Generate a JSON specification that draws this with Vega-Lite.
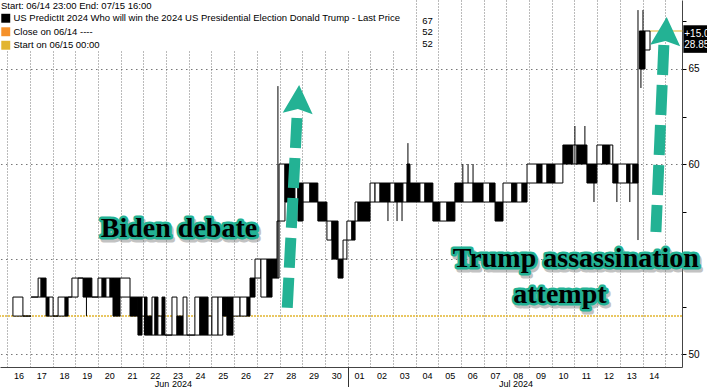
{
  "$schema": "https://vega.github.io/schema/vega-lite/v6.json",
  "width": 682,
  "height": 367,
  "autosize": {"type": "none"},
  "padding": {"left": 0, "top": 0, "right": 25, "bottom": 20},
  "background": "#ffffff",
  "config": {"view": {"stroke": null}, "font": "Liberation Sans"},
  "datasets": {
    "candles": [
      {"t0": 16.25, "t1": 16.69, "open": 52, "close": 53},
      {"t0": 16.69, "t1": 17.05, "open": 52, "close": 52},
      {"t0": 17.05, "t1": 17.36, "open": 53, "close": 53},
      {"t0": 17.36, "t1": 17.49, "open": 53, "close": 54},
      {"t0": 17.49, "t1": 17.71, "open": 54, "close": 53},
      {"t0": 17.71, "t1": 17.84, "open": 53, "close": 52},
      {"t0": 17.84, "t1": 18.02, "open": 52, "close": 53},
      {"t0": 18.02, "t1": 18.24, "open": 52, "close": 52},
      {"t0": 18.24, "t1": 18.55, "open": 52, "close": 53},
      {"t0": 18.55, "t1": 18.68, "open": 53, "close": 52},
      {"t0": 18.68, "t1": 18.85, "open": 53, "close": 53},
      {"t0": 18.85, "t1": 19.12, "open": 53, "close": 54},
      {"t0": 19.12, "t1": 19.34, "open": 54, "close": 54},
      {"t0": 19.34, "t1": 19.73, "open": 54, "close": 53},
      {"t0": 19.73, "t1": 20.0, "open": 53, "close": 53},
      {"t0": 20.0, "t1": 20.18, "open": 53, "close": 54},
      {"t0": 20.18, "t1": 20.35, "open": 54, "close": 53},
      {"t0": 20.35, "t1": 20.53, "open": 53, "close": 54},
      {"t0": 20.53, "t1": 20.66, "open": 54, "close": 53},
      {"t0": 20.66, "t1": 20.97, "open": 54, "close": 52},
      {"t0": 20.97, "t1": 21.41, "open": 53, "close": 54},
      {"t0": 21.41, "t1": 21.76, "open": 53, "close": 52},
      {"t0": 21.76, "t1": 21.94, "open": 53, "close": 51},
      {"t0": 21.94, "t1": 22.05, "open": 52, "close": 53},
      {"t0": 22.05, "t1": 22.16, "open": 53, "close": 51},
      {"t0": 22.16, "t1": 22.38, "open": 52, "close": 51},
      {"t0": 22.38, "t1": 22.51, "open": 51, "close": 53},
      {"t0": 22.51, "t1": 22.64, "open": 53, "close": 51},
      {"t0": 22.64, "t1": 22.82, "open": 51, "close": 52},
      {"t0": 22.82, "t1": 22.95, "open": 53, "close": 51},
      {"t0": 22.95, "t1": 23.26, "open": 51, "close": 51},
      {"t0": 23.26, "t1": 23.48, "open": 51, "close": 53},
      {"t0": 23.48, "t1": 23.75, "open": 52, "close": 51},
      {"t0": 23.75, "t1": 23.92, "open": 51, "close": 53},
      {"t0": 23.92, "t1": 24.27, "open": 51, "close": 51},
      {"t0": 24.27, "t1": 24.49, "open": 51, "close": 53},
      {"t0": 24.49, "t1": 24.85, "open": 53, "close": 51},
      {"t0": 24.85, "t1": 25.02, "open": 51, "close": 52},
      {"t0": 25.02, "t1": 25.29, "open": 51, "close": 53},
      {"t0": 25.29, "t1": 25.5, "open": 51, "close": 53},
      {"t0": 25.5, "t1": 25.68, "open": 53, "close": 52},
      {"t0": 25.68, "t1": 25.95, "open": 53, "close": 51},
      {"t0": 25.95, "t1": 26.26, "open": 52, "close": 53},
      {"t0": 26.26, "t1": 26.57, "open": 52, "close": 53},
      {"t0": 26.57, "t1": 26.7, "open": 53, "close": 52},
      {"t0": 26.7, "t1": 26.92, "open": 54, "close": 53},
      {"t0": 26.92, "t1": 27.18, "open": 54, "close": 55},
      {"t0": 27.18, "t1": 27.45, "open": 53, "close": 55},
      {"t0": 27.45, "t1": 27.67, "open": 55, "close": 53},
      {"t0": 27.67, "t1": 27.89, "open": 55, "close": 54},
      {"t0": 27.89, "t1": 27.98, "open": 54, "close": 57},
      {"t0": 27.98, "t1": 28.24, "open": 57, "close": 60},
      {"t0": 28.24, "t1": 28.46, "open": 60, "close": 58},
      {"t0": 28.46, "t1": 28.68, "open": 59, "close": 58},
      {"t0": 28.68, "t1": 28.81, "open": 58, "close": 59},
      {"t0": 28.81, "t1": 29.03, "open": 59, "close": 57},
      {"t0": 29.03, "t1": 29.34, "open": 58, "close": 59},
      {"t0": 29.34, "t1": 29.69, "open": 59, "close": 58},
      {"t0": 29.69, "t1": 30.09, "open": 58, "close": 57},
      {"t0": 30.09, "t1": 30.31, "open": 56, "close": 57},
      {"t0": 30.31, "t1": 30.58, "open": 57, "close": 55},
      {"t0": 30.58, "t1": 30.8, "open": 55, "close": 54},
      {"t0": 30.8, "t1": 30.97, "open": 55, "close": 56},
      {"t0": 30.97, "t1": 31.19, "open": 56, "close": 57},
      {"t0": 31.19, "t1": 31.33, "open": 57, "close": 56},
      {"t0": 31.33, "t1": 31.46, "open": 57, "close": 58},
      {"t0": 31.46, "t1": 31.99, "open": 58, "close": 57},
      {"t0": 31.99, "t1": 32.21, "open": 58, "close": 59},
      {"t0": 32.21, "t1": 32.43, "open": 58, "close": 59},
      {"t0": 32.43, "t1": 32.87, "open": 59, "close": 58},
      {"t0": 32.87, "t1": 33.09, "open": 58, "close": 59},
      {"t0": 33.09, "t1": 33.44, "open": 59, "close": 58},
      {"t0": 33.44, "t1": 33.62, "open": 58, "close": 59},
      {"t0": 33.62, "t1": 33.75, "open": 60, "close": 58},
      {"t0": 33.75, "t1": 34.19, "open": 59, "close": 58},
      {"t0": 34.19, "t1": 34.41, "open": 58, "close": 59},
      {"t0": 34.41, "t1": 34.76, "open": 59, "close": 58},
      {"t0": 34.76, "t1": 35.07, "open": 58, "close": 57},
      {"t0": 35.07, "t1": 35.38, "open": 57, "close": 58},
      {"t0": 35.38, "t1": 35.73, "open": 58, "close": 57},
      {"t0": 35.73, "t1": 36.08, "open": 59, "close": 58},
      {"t0": 36.08, "t1": 36.53, "open": 58, "close": 59},
      {"t0": 36.53, "t1": 36.97, "open": 59, "close": 58},
      {"t0": 36.97, "t1": 37.27, "open": 58, "close": 59},
      {"t0": 37.27, "t1": 37.5, "open": 59, "close": 58},
      {"t0": 37.5, "t1": 37.85, "open": 58, "close": 57},
      {"t0": 37.85, "t1": 38.24, "open": 58, "close": 59},
      {"t0": 38.24, "t1": 38.46, "open": 59, "close": 58},
      {"t0": 38.46, "t1": 38.69, "open": 58, "close": 59},
      {"t0": 38.69, "t1": 38.91, "open": 59, "close": 58},
      {"t0": 38.91, "t1": 39.35, "open": 59, "close": 60},
      {"t0": 39.35, "t1": 39.57, "open": 60, "close": 59},
      {"t0": 39.57, "t1": 39.79, "open": 59, "close": 60},
      {"t0": 39.79, "t1": 40.14, "open": 60, "close": 59},
      {"t0": 40.14, "t1": 40.49, "open": 59, "close": 60},
      {"t0": 40.49, "t1": 40.93, "open": 61, "close": 60},
      {"t0": 40.93, "t1": 41.11, "open": 60, "close": 61},
      {"t0": 41.11, "t1": 41.55, "open": 61, "close": 60},
      {"t0": 41.55, "t1": 41.99, "open": 60, "close": 59},
      {"t0": 41.99, "t1": 42.25, "open": 60, "close": 61},
      {"t0": 42.25, "t1": 42.56, "open": 61, "close": 60},
      {"t0": 42.56, "t1": 42.69, "open": 60, "close": 61},
      {"t0": 42.69, "t1": 42.92, "open": 60, "close": 59},
      {"t0": 42.92, "t1": 43.31, "open": 59, "close": 60},
      {"t0": 43.31, "t1": 43.45, "open": 60, "close": 59},
      {"t0": 43.45, "t1": 43.58, "open": 59, "close": 60},
      {"t0": 43.58, "t1": 43.8, "open": 60, "close": 59},
      {"t0": 43.86, "t1": 44.11, "open": 67, "close": 65},
      {"t0": 44.11, "t1": 44.33, "open": 66, "close": 67}
    ],
    "wicks": [
      {"t": 19.49, "low": 52, "high": 53},
      {"t": 27.93, "low": 54, "high": 64.1},
      {"t": 29.03, "low": 57, "high": 59},
      {"t": 32.78, "low": 57, "high": 59},
      {"t": 33.18, "low": 57, "high": 58},
      {"t": 33.4, "low": 57, "high": 58},
      {"t": 33.66, "low": 58, "high": 61.1},
      {"t": 36.08, "low": 58, "high": 60},
      {"t": 36.31, "low": 59, "high": 60},
      {"t": 36.53, "low": 59, "high": 60},
      {"t": 41.02, "low": 60, "high": 62},
      {"t": 41.46, "low": 60, "high": 62},
      {"t": 41.86, "low": 58, "high": 60},
      {"t": 42.87, "low": 58, "high": 59},
      {"t": 43.44, "low": 58, "high": 59},
      {"t": 43.8, "low": 56, "high": 68.1},
      {"t": 43.93, "low": 64, "high": 65},
      {"t": 44.02, "low": 67, "high": 68.1}
    ],
    "lastline": [
      {"t0": 44.33, "t1": 45.76, "price": 67}
    ],
    "lastbox": [
      {"t0": 45.8, "t1": 47.0, "top": 67.3, "bottom": 65.85}
    ],
    "lastlabels": [
      {"text": "+15.00", "t": 45.84, "v": 66.85},
      {"text": "28.85%", "t": 45.84, "v": 66.25}
    ],
    "arrows": [
      {"arrow": "debate", "seq": 0, "t": 28.77, "v": 62.42},
      {"arrow": "debate", "seq": 1, "t": 28.33, "v": 52.16},
      {"arrow": "shooting", "seq": 0, "t": 44.94, "v": 66.26},
      {"arrow": "shooting", "seq": 1, "t": 44.59, "v": 56.42}
    ],
    "heads": [
      {"arrow": "debate", "t": 28.83, "v": 63.37},
      {"arrow": "shooting", "t": 45.03, "v": 66.95}
    ],
    "notes": [
      {"label": "Biden debate", "t": 23.57, "v": 56.16},
      {"label": "Trump assassination", "t": 41.06, "v": 54.58},
      {"label": "attempt", "t": 40.36, "v": 52.68}
    ],
    "legendvals": [
      {"val": "67", "t": 34.76, "v": 67.53},
      {"val": "52", "t": 34.76, "v": 66.95},
      {"val": "52", "t": 34.76, "v": 66.32}
    ],
    "start": [
      {"series": "Start on 06/15 00:00", "price": 52}
    ]
  },
  "layer": [
    {
      "data": {"name": "start"},
      "mark": {"type": "rule", "strokeWidth": 1.5, "strokeDash": [2, 1]},
      "encoding": {
        "y": {"field": "price", "type": "quantitative", "scale": {"domain": [49.32, 68.63], "nice": false, "zero": false}},
        "color": {
          "field": "series", "type": "nominal",
          "scale": {
            "domain": ["US PredictIt 2024 Who will win the 2024 US Presidential Election Donald Trump - Last Price", "Close on 06/14 ----", "Start on 06/15 00:00"],
            "range": ["#000000", "#f5912a", "#e2b52f"]
          },
          "legend": {
            "orient": "top-left", "offset": 0, "padding": 1, "fillColor": "#ffffff",
            "title": "Start: 06/14 23:00 End: 07/15 16:00",
            "titleFont": "Liberation Sans", "titleFontSize": 9.5, "titleFontWeight": "normal", "titleColor": "#000000", "titlePadding": 3,
            "labelFont": "Liberation Sans", "labelFontSize": 9.5, "labelColor": "#000000", "labelLimit": 1000, "labelOffset": 3,
            "symbolType": "square", "symbolSize": 80, "symbolStrokeWidth": 0, "symbolOpacity": 1, "rowPadding": 2.5,
            "encode": {"symbols": {"update": {"fill": {"scale": "color", "field": "value"}, "strokeWidth": {"value": 0}, "opacity": {"value": 1}}}}
          }
        }
      }
    },
    {
      "data": {"name": "lastline"},
      "mark": {"type": "rule", "color": "#e2b52f", "strokeWidth": 1.2},
      "encoding": {
        "x": {"field": "t0", "type": "quantitative", "scale": {"domain": [15.68, 45.74], "nice": false, "zero": false}, "axis": null},
        "x2": {"field": "t1"},
        "y": {"field": "price", "type": "quantitative", "scale": {"domain": [49.32, 68.63], "nice": false, "zero": false}}
      }
    },
    {
      "data": {"name": "candles"},
      "mark": {"type": "rect", "stroke": "#000000", "strokeWidth": 1},
      "encoding": {
        "x": {"field": "t0", "type": "quantitative", "scale": {"domain": [15.68, 45.74], "nice": false, "zero": false},
          "axis": {
            "orient": "bottom",
            "values": [16.5, 17.5, 18.5, 19.5, 20.5, 21.5, 22.5, 23.5, 24.5, 25.5, 26.5, 27.5, 28.5, 29.5, 30.5, 31.5, 32.5, 33.5, 34.5, 35.5, 36.5, 37.5, 38.5, 39.5, 40.5, 41.5, 42.5, 43.5, 44.5],
            "labelExpr": "datum.value < 31 ? format(floor(datum.value), 'd') : format(floor(datum.value) - 30, '02d')",
            "grid": false, "ticks": false, "domain": true, "domainColor": "#444444",
            "labelFont": "Liberation Sans", "labelFontSize": 9, "labelColor": "#000000", "labelPadding": 4,
            "labelOverlap": false, "labelFlush": false, "title": null
          }
        },
        "x2": {"field": "t1"},
        "y": {"field": "open", "type": "quantitative", "scale": {"domain": [49.32, 68.63], "nice": false, "zero": false},
          "axis": {
            "orient": "right", "values": [50, 52.5, 55, 57.5, 60, 62.5, 65, 67.5],
            "labelExpr": "datum.value == 50 || datum.value == 60 || datum.value == 65 ? format(datum.value, 'd') : ''",
            "grid": true, "gridColor": "#777777", "gridDash": [1.5, 3.5],
            "gridOpacity": {"condition": {"test": "datum.value % 5 == 0", "value": 1}, "value": 0},
            "tickSize": 4, "tickColor": "#000000", "domainColor": "#444444",
            "labelFont": "Liberation Sans", "labelFontSize": 10, "labelColor": "#000000", "labelPadding": 2, "title": null
          }
        },
        "y2": {"field": "close"},
        "fill": {
          "condition": {"test": "datum.close < datum.open", "value": "#000000"},
          "value": "#ffffff"
        }
      }
    },
    {
      "data": {"name": "wicks"},
      "mark": {"type": "rule", "color": "#000000", "strokeWidth": 1},
      "encoding": {
        "x": {"field": "t", "type": "quantitative", "scale": {"domain": [15.68, 45.74], "nice": false, "zero": false},
          "axis": {
            "orient": "bottom",
            "values": [16, 17, 18, 19, 20, 21, 22, 23, 24, 25, 26, 27, 28, 29, 30, 31, 32, 33, 34, 35, 36, 37, 38, 39, 40, 41, 42, 43, 44, 45, 23.3, 38.4],
            "grid": true, "gridColor": "#777777", "gridDash": [1, 2],
            "gridOpacity": {"condition": {"test": "datum.value == floor(datum.value)", "value": 1}, "value": 0},
            "ticks": true, "tickSize": 20, "tickColor": "#333333",
            "tickOpacity": {"condition": {"test": "datum.value == 31", "value": 1}, "value": 0},
            "labelExpr": "datum.value == 23.3 ? 'Jun 2024' : (datum.value == 38.4 ? 'Jul 2024' : '')",
            "labelFont": "Liberation Sans", "labelFontSize": 9, "labelColor": "#000000", "labelPadding": -8,
            "labelOverlap": false, "labelFlush": false, "domain": false, "title": null
          }
        },
        "y": {"field": "low", "type": "quantitative", "scale": {"domain": [49.32, 68.63], "nice": false, "zero": false}},
        "y2": {"field": "high"}
      }
    },
    {
      "data": {"name": "lastbox"},
      "mark": {"type": "rect", "color": "#000000"},
      "encoding": {
        "x": {"field": "t0", "type": "quantitative", "scale": {"domain": [15.68, 45.74], "nice": false, "zero": false}, "axis": null},
        "x2": {"field": "t1"},
        "y": {"field": "top", "type": "quantitative", "scale": {"domain": [49.32, 68.63], "nice": false, "zero": false}},
        "y2": {"field": "bottom"}
      }
    },
    {
      "data": {"name": "lastlabels"},
      "mark": {"type": "text", "font": "Liberation Sans", "fontSize": 10, "align": "left", "baseline": "middle", "fill": "#ffffff"},
      "encoding": {
        "x": {"field": "t", "type": "quantitative", "scale": {"domain": [15.68, 45.74], "nice": false, "zero": false}, "axis": null},
        "y": {"field": "v", "type": "quantitative", "scale": {"domain": [49.32, 68.63], "nice": false, "zero": false}},
        "text": {"field": "text"}
      }
    },
    {
      "data": {"name": "arrows"},
      "mark": {"type": "line", "color": "#23b294", "strokeWidth": 11, "strokeDash": [30, 10], "strokeCap": "butt"},
      "encoding": {
        "x": {"field": "t", "type": "quantitative", "scale": {"domain": [15.68, 45.74], "nice": false, "zero": false}, "axis": null},
        "y": {"field": "v", "type": "quantitative", "scale": {"domain": [49.32, 68.63], "nice": false, "zero": false}},
        "detail": {"field": "arrow"},
        "order": {"field": "seq"}
      }
    },
    {
      "data": {"name": "heads"},
      "mark": {"type": "point", "shape": "M0,-1L1,0.9L0,0.6L-1,0.9Z", "size": 900, "filled": true, "color": "#23b294", "opacity": 1, "angle": 3},
      "encoding": {
        "x": {"field": "t", "type": "quantitative", "scale": {"domain": [15.68, 45.74], "nice": false, "zero": false}, "axis": null},
        "y": {"field": "v", "type": "quantitative", "scale": {"domain": [49.32, 68.63], "nice": false, "zero": false}}
      }
    },
    {
      "data": {"name": "notes"},
      "mark": {"type": "text", "font": "Liberation Serif", "fontWeight": "bold", "fontSize": 28, "align": "center", "baseline": "alphabetic", "fill": "#7a7a7a", "stroke": "#7a7a7a", "strokeWidth": 5, "strokeJoin": "round", "opacity": 0.45, "dx": 2, "dy": 3},
      "encoding": {
        "x": {"field": "t", "type": "quantitative", "scale": {"domain": [15.68, 45.74], "nice": false, "zero": false}, "axis": null},
        "y": {"field": "v", "type": "quantitative", "scale": {"domain": [49.32, 68.63], "nice": false, "zero": false}},
        "text": {"field": "label"}
      }
    },
    {
      "data": {"name": "notes"},
      "mark": {"type": "text", "font": "Liberation Serif", "fontWeight": "bold", "fontSize": 28, "align": "center", "baseline": "alphabetic", "fill": "#23b294", "stroke": "#23b294", "strokeWidth": 5, "strokeJoin": "round"},
      "encoding": {
        "x": {"field": "t", "type": "quantitative", "scale": {"domain": [15.68, 45.74], "nice": false, "zero": false}, "axis": null},
        "y": {"field": "v", "type": "quantitative", "scale": {"domain": [49.32, 68.63], "nice": false, "zero": false}},
        "text": {"field": "label"}
      }
    },
    {
      "data": {"name": "notes"},
      "mark": {"type": "text", "font": "Liberation Serif", "fontWeight": "bold", "fontSize": 28, "align": "center", "baseline": "alphabetic", "fill": "#000000"},
      "encoding": {
        "x": {"field": "t", "type": "quantitative", "scale": {"domain": [15.68, 45.74], "nice": false, "zero": false}, "axis": null},
        "y": {"field": "v", "type": "quantitative", "scale": {"domain": [49.32, 68.63], "nice": false, "zero": false}},
        "text": {"field": "label"}
      }
    },
    {
      "data": {"name": "legendvals"},
      "mark": {"type": "text", "font": "Liberation Sans", "fontSize": 9.5, "align": "right", "baseline": "middle", "fill": "#000000", "zindex": 2},
      "encoding": {
        "x": {"field": "t", "type": "quantitative", "scale": {"domain": [15.68, 45.74], "nice": false, "zero": false}, "axis": null},
        "y": {"field": "v", "type": "quantitative", "scale": {"domain": [49.32, 68.63], "nice": false, "zero": false}},
        "text": {"field": "val"}
      }
    }
  ],
  "resolve": {"axis": {"x": "independent"}}
}
